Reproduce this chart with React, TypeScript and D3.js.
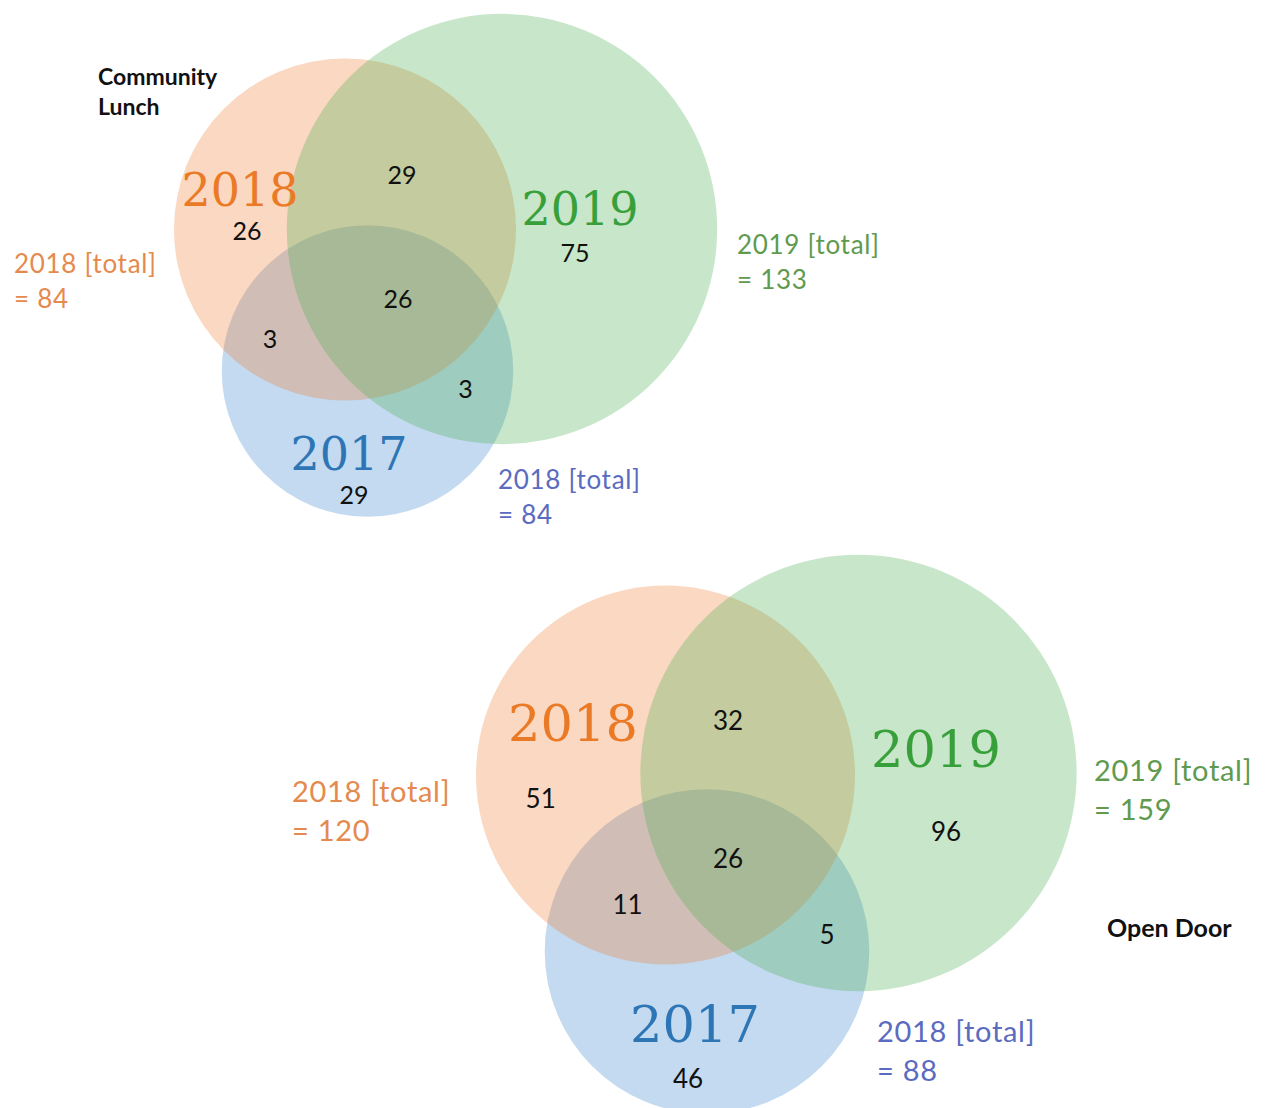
import React, { useEffect, useRef } from 'react';
import * as d3 from 'd3';

// region order: 2018 only, 2019 only, 2017 only, 2018&2019, 2018&2017, 2019&2017, all three
const years = ['2018', '2019', '2017'];
const lunchCounts = [26, 75, 29, 29, 3, 3, 26];
const doorCounts = [51, 96, 46, 32, 11, 5, 26];
const totalNames = ['2018 [total]', '2019 [total]', '2018 [total]'];
const lunchTotals = ['= 84', '= 133', '= 84'];
const doorTotals = ['= 120', '= 159', '= 88'];

const circleFill = ['#ED7D31', '#4CAF50', '#5B9BD5'];
const circleOpacity = [0.3, 0.31, 0.37];
const yearColor = ['#EA7A26', '#38A03A', '#2E75B6'];
const totalColor = ['#E58A4E', '#609A4E', '#5B6BC0'];
// paint order: 2017 underneath, then 2018, then 2019
const drawOrder = [2, 0, 1];

// which regions make up each set
const setRegions = [[0, 3, 4, 6], [1, 3, 5, 6], [2, 4, 5, 6]];

const diagrams = [
  {
    counts: lunchCounts,
    totals: lunchTotals,
    k: 18.66,
    centers: [[345, 229.5], [502, 229], [367.5, 371]],
    numPos: [[247, 240], [575, 262], [354, 504], [402, 184], [270, 348], [465.5, 397.5], [398, 308]],
    yearPos: [[240, 206], [580, 225], [349, 470]],
    totalPos: [[14, 273], [737, 254], [498, 489]],
    lineGap: 35,
    title: ['Community', 'Lunch'],
    titlePos: [98, 85],
    yearSize: 46,
    numSize: 25,
    totalSize: 26,
    titleSize: 23,
  },
  {
    counts: doorCounts,
    totals: doorTotals,
    k: 17.3,
    centers: [[665.5, 775], [858.5, 773], [707, 951.5]],
    numPos: [[540.7, 808], [946, 841], [688, 1088], [728, 730], [627.5, 913.6], [827, 944.4], [728, 868]],
    yearPos: [[573, 741], [936, 767], [695, 1042]],
    totalPos: [[292, 802], [1094, 781], [877, 1042]],
    lineGap: 39,
    title: ['Open Door'],
    titlePos: [1107, 937],
    yearSize: 51,
    numSize: 26,
    totalSize: 29,
    titleSize: 25,
  },
];

const App = () => {
  const ref = useRef<SVGSVGElement>(null);

  useEffect(() => {
    const svg = d3.select(ref.current);
    svg.selectAll('*').remove();

    diagrams.forEach((dg) => {
      const g = svg.append('g');
      const totals = setRegions.map((rs) => d3.sum(rs, (i) => dg.counts[i]));
      // area proportional circles
      const r = d3.scaleSqrt().domain([0, 1]).range([0, dg.k]);

      g.selectAll('circle')
        .data(drawOrder)
        .enter()
        .append('circle')
        .attr('cx', (i) => dg.centers[i][0])
        .attr('cy', (i) => dg.centers[i][1])
        .attr('r', (i) => r(totals[i]))
        .attr('fill', (i) => circleFill[i])
        .attr('fill-opacity', (i) => circleOpacity[i]);

      g.selectAll('text.year')
        .data(years)
        .enter()
        .append('text')
        .attr('class', 'year')
        .attr('x', (d, i) => dg.yearPos[i][0])
        .attr('y', (d, i) => dg.yearPos[i][1])
        .attr('text-anchor', 'middle')
        .attr('font-family', 'DejaVu Serif')
        .attr('font-size', dg.yearSize)
        .attr('fill', (d, i) => yearColor[i])
        .text((d) => d);

      g.selectAll('text.num')
        .data(dg.counts)
        .enter()
        .append('text')
        .attr('class', 'num')
        .attr('x', (d, i) => dg.numPos[i][0])
        .attr('y', (d, i) => dg.numPos[i][1])
        .attr('text-anchor', 'middle')
        .attr('font-family', 'Lato')
        .attr('font-size', dg.numSize)
        .attr('fill', '#111')
        .text((d) => d);

      const tot = g.selectAll('text.total')
        .data(totalNames)
        .enter()
        .append('text')
        .attr('class', 'total')
        .attr('font-family', 'Lato')
        .attr('font-size', dg.totalSize)
        .attr('letter-spacing', 0.7)
        .attr('fill', (d, i) => totalColor[i]);
      tot.append('tspan')
        .attr('x', (d, i) => dg.totalPos[i][0])
        .attr('y', (d, i) => dg.totalPos[i][1])
        .text((d) => d);
      tot.append('tspan')
        .attr('x', (d, i) => dg.totalPos[i][0])
        .attr('y', (d, i) => dg.totalPos[i][1] + dg.lineGap)
        .text((d, i) => dg.totals[i]);

      g.selectAll('text.title')
        .data(dg.title)
        .enter()
        .append('text')
        .attr('class', 'title')
        .attr('x', dg.titlePos[0])
        .attr('y', (d, i) => dg.titlePos[1] + i * 30)
        .attr('font-family', 'Lato')
        .attr('font-weight', 'bold')
        .attr('font-size', dg.titleSize)
        .attr('fill', '#111')
        .text((d) => d);
    });
  }, []);

  return (
    <svg
      ref={ref}
      width={1266}
      height={1108}
      style={{ position: 'absolute', left: 0, top: 0, background: '#fff' }}
    ></svg>
  );
};

export default App;
